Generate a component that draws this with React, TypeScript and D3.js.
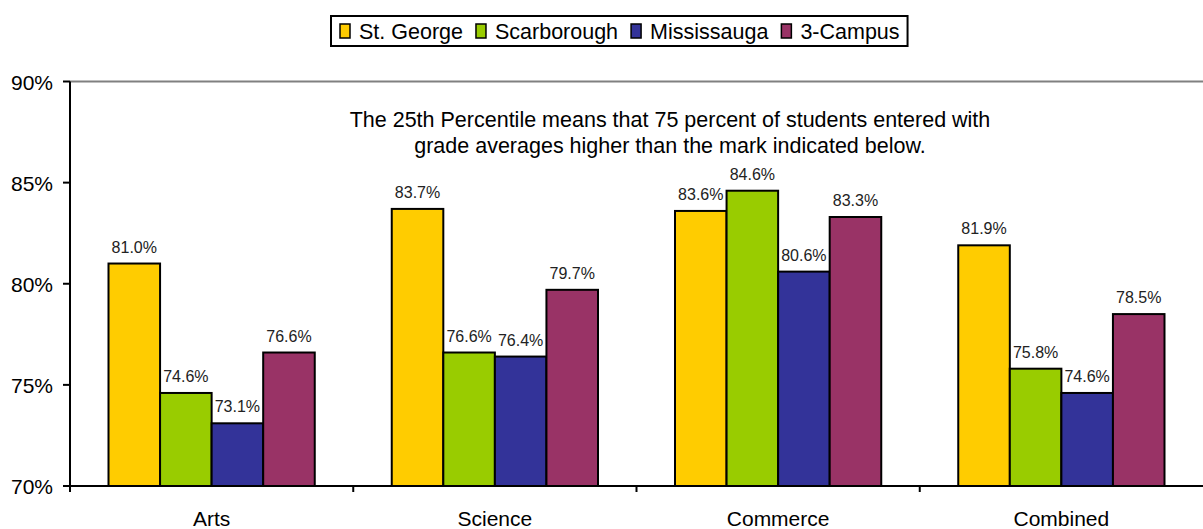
import React from "react";
import * as d3 from "d3";

const categories = ["Arts", "Science", "Commerce", "Combined"];
const seriesNames = ["St. George", "Scarborough", "Mississauga", "3-Campus"];
const seriesColors = ["#FFCC00", "#99CC00", "#333399", "#993366"];
const stGeorge = [81.0, 83.7, 83.6, 81.9];
const scarborough = [74.6, 76.6, 84.6, 75.8];
const mississauga = [73.1, 76.4, 80.6, 74.6];
const threeCampus = [76.6, 79.7, 83.3, 78.5];
const yTicks = [70, 75, 80, 85, 90];
const noteLines = [
  "The 25th Percentile means that 75 percent of students entered with",
  "grade averages higher than the mark indicated below.",
];

const W = 1203;
const H = 529;
const FONT = "'Liberation Sans', Arial, sans-serif";

function measure(text: string, size: number) {
  const c = document.createElement("canvas").getContext("2d")!;
  c.font = `${size}px 'Liberation Sans', Arial`;
  return c.measureText(text).width;
}

export default function App() {
  const series = [stGeorge, scarborough, mississauga, threeCampus];
  const left = 70;
  const right = 1203;
  const top = 81.5;
  const bottom = 486;
  const x0 = d3.scaleBand<string>().domain(categories).range([left, right]).paddingInner(0).paddingOuter(0);
  const groupPad = 38.5;
  const x1 = d3
    .scaleBand<number>()
    .domain(d3.range(seriesNames.length))
    .range([groupPad, x0.bandwidth() - groupPad]);
  const y = d3.scaleLinear().domain([70, 90]).range([bottom, top]);

  // legend layout
  const legFont = 21.5;
  const swW = 10;
  const swH = 14;
  const boxLeft = 331;
  const items: { x: number; tx: number }[] = [];
  let cx = boxLeft + 9;
  let lastEnd = cx;
  seriesNames.forEach((n) => {
    const tx = cx + 19;
    items.push({ x: cx, tx });
    lastEnd = tx + measure(n, legFont);
    cx = lastEnd + 13;
  });
  const legRight = lastEnd + 8;

  return (
    <svg width={W} height={H} style={{ position: "absolute", left: 0, top: 0 }} fontFamily={FONT}>
      <rect x={0} y={0} width={W} height={H} fill="#fff" />
      {/* legend */}
      <rect x={boxLeft} y={16} width={legRight - boxLeft} height={30} fill="#fff" stroke="#000" strokeWidth={2} />
      {seriesNames.map((n, i) => (
        <g key={n}>
          <rect x={items[i].x} y={24} width={swW} height={swH} fill={seriesColors[i]} stroke="#000" strokeWidth={1.5} />
          <text x={items[i].tx} y={39} fontSize={legFont} fill="#000">
            {n}
          </text>
        </g>
      ))}
      {/* top gridline */}
      <line x1={left} x2={right} y1={y(90)} y2={y(90)} stroke="#808080" strokeWidth={2} />
      {/* bars */}
      {categories.map((c, ci) => (
        <g key={c} transform={`translate(${x0(c)},0)`}>
          {series.map((s, si) => (
            <g key={si}>
              <rect
                x={x1(si)!}
                y={y(s[ci])}
                width={x1.bandwidth()}
                height={bottom - y(s[ci])}
                fill={seriesColors[si]}
                stroke="#000"
                strokeWidth={2}
              />
              <text
                x={x1(si)! + x1.bandwidth() / 2}
                y={y(s[ci]) - 11}
                textAnchor="middle"
                fontSize={16}
                fill="#222"
              >
                {s[ci].toFixed(1) + "%"}
              </text>
            </g>
          ))}
        </g>
      ))}
      {/* y axis */}
      <line x1={left} x2={left} y1={top} y2={bottom + 6} stroke="#000" strokeWidth={2} />
      {yTicks.map((t) => (
        <g key={t}>
          <line x1={left - 7} x2={left} y1={y(t)} y2={y(t)} stroke="#000" strokeWidth={2} />
          <text x={left - 17} y={y(t) + 8} textAnchor="end" fontSize={21} fill="#000">
            {t + "%"}
          </text>
        </g>
      ))}
      {/* x axis */}
      <line x1={left} x2={right} y1={bottom} y2={bottom} stroke="#000" strokeWidth={2} />
      {categories.map((c) => (
        <g key={c}>
          <line x1={x0(c)!} x2={x0(c)!} y1={bottom} y2={bottom + 6} stroke="#000" strokeWidth={2} />
          <text x={x0(c)! + x0.bandwidth() / 2} y={526} textAnchor="middle" fontSize={21} fill="#000">
            {c}
          </text>
        </g>
      ))}
      {/* note */}
      {noteLines.map((l, i) => (
        <text key={i} x={670} y={127 + i * 26} textAnchor="middle" fontSize={21.5} fill="#000">
          {l}
        </text>
      ))}
    </svg>
  );
}
